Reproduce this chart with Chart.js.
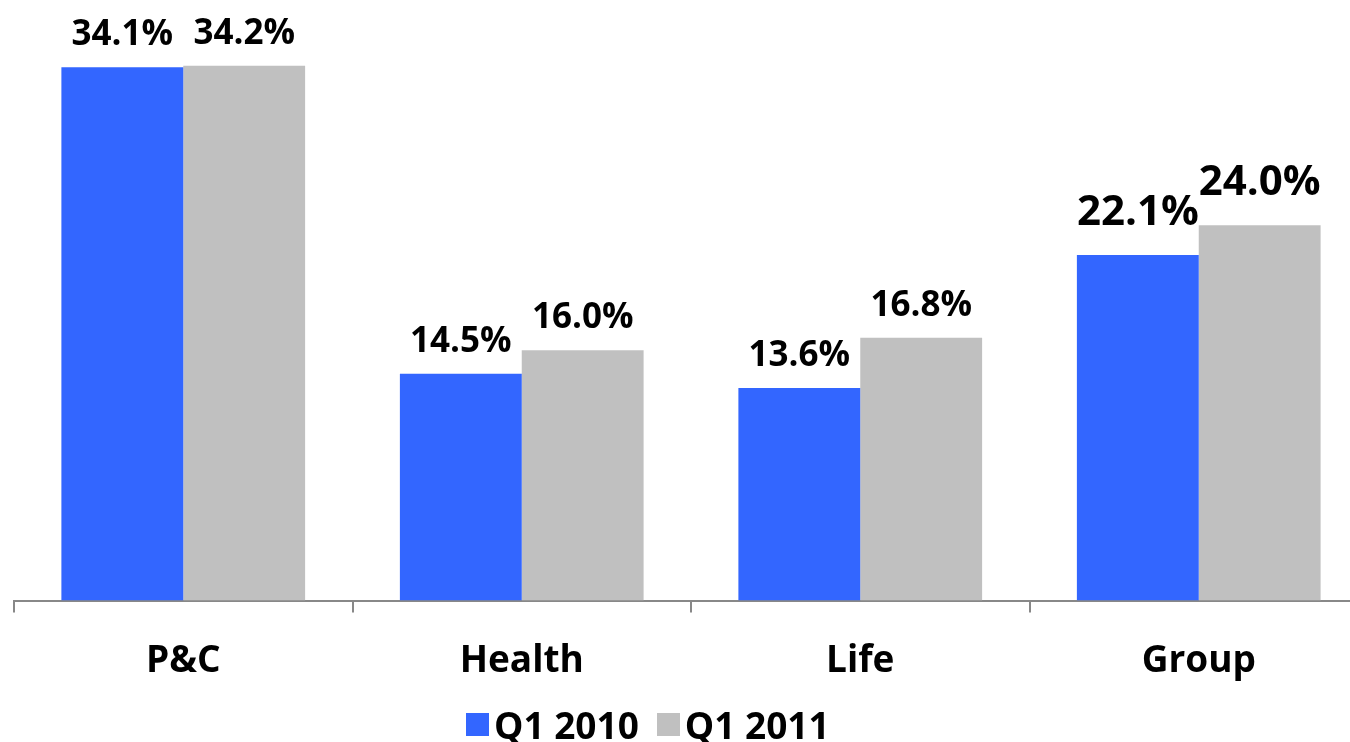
<!DOCTYPE html>
<html>
<head>
<meta charset="utf-8">
<script src="https://cdn.jsdelivr.net/npm/chart.js@4"></script>
<style>
  body { margin: 0; overflow: hidden; background: #fff; width: 1350px; height: 742px; position: relative; }
  #legend { position: absolute; left: 466px; top: 699px; font: bold 37px "Open Sans"; display: flex; align-items: center; color: #000; }
  #legend span.box { display: inline-block; width: 23px; height: 23px; margin-right: 5px; }
  #legend span.item { display: inline-flex; align-items: center; margin-right: 18px; }
</style>
</head>
<body>
<canvas id="shareChart" width="1370" height="742"></canvas>
<div id="legend"></div>
<script>
const categories = ['P&C', 'Health', 'Life', 'Group'];
const seriesNames = ['Q1 2010', 'Q1 2011'];
const q1_2010 = [34.1, 14.5, 13.6, 22.1];
const q1_2011 = [34.2, 16.0, 16.8, 24.0];
const colors = ['#3366FF', '#C0C0C0'];
// label sizes per category (group labels are larger in the original)
const labelSizes = [35, 35, 35, 42];
const labelGaps = [22, 22, 22, 30];

const valueLabels = {
    id: 'valueLabels',
    afterDatasetsDraw(chart) {
        const c = chart.ctx;
        c.save();
        c.fillStyle = '#000';
        c.textAlign = 'center';
        c.textBaseline = 'alphabetic';
        chart.data.datasets.forEach((ds, i) => {
            chart.getDatasetMeta(i).data.forEach((bar, j) => {
                c.font = 'bold ' + labelSizes[j] + 'px "Open Sans"';
                c.fillText(ds.data[j].toFixed(1) + '%', bar.x, bar.y - labelGaps[j]);
            });
        });
        c.restore();
    }
};

const ctx = document.getElementById('shareChart').getContext('2d');
const shareChart = new Chart(ctx, {
    type: 'bar',
    data: {
        labels: categories,
        datasets: [
            { label: seriesNames[0], data: q1_2010, backgroundColor: colors[0] },
            { label: seriesNames[1], data: q1_2011, backgroundColor: colors[1] }
        ]
    },
    options: {
        responsive: false,
        animation: false,
        layout: { padding: { left: 14, right: 2, top: 0, bottom: 31 } },
        datasets: { bar: { categoryPercentage: 0.72, barPercentage: 1.0 } },
        plugins: { legend: { display: false }, tooltip: { enabled: false } },
        scales: {
            y: { display: false, min: 0, max: 38.4 },
            x: {
                border: { color: '#888', width: 2 },
                grid: { offset: true, drawOnChartArea: false, drawTicks: true, tickLength: 12, color: '#888', lineWidth: 2 },
                ticks: { color: '#000', padding: 27, font: { family: 'Open Sans', weight: 'bold', size: 37 } }
            }
        }
    },
    plugins: [valueLabels]
});

const legend = document.getElementById('legend');
seriesNames.forEach((name, i) => {
    const item = document.createElement('span');
    item.className = 'item';
    const box = document.createElement('span');
    box.className = 'box';
    box.style.background = colors[i];
    item.appendChild(box);
    item.appendChild(document.createTextNode(name));
    legend.appendChild(item);
});
</script>
</body>
</html>
